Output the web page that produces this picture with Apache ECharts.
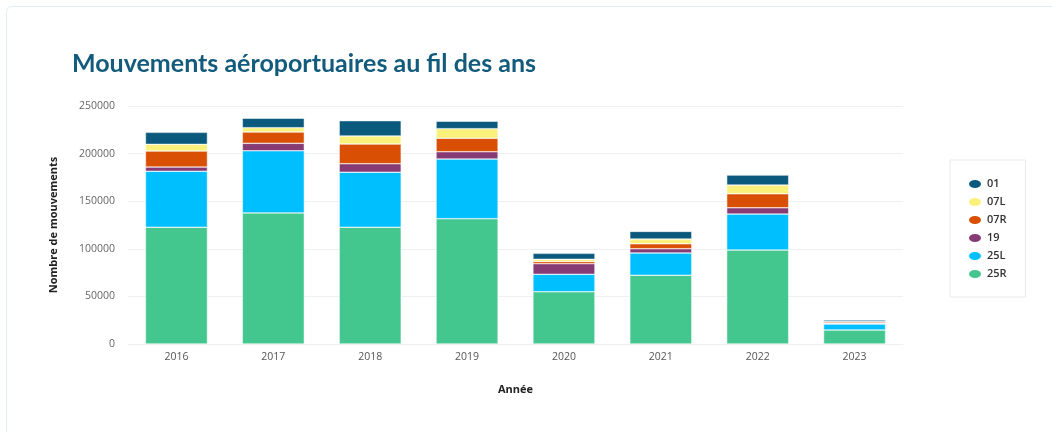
<!DOCTYPE html>
<html>
<head>
<meta charset="utf-8">
<script src="https://cdn.jsdelivr.net/npm/echarts@6/dist/echarts.min.js"></script>
<style>
  html, body { margin: 0; padding: 0; background: #fff; }
  #card {
    position: absolute; left: 6px; top: 6px; width: 1080px; height: 460px;
    border: 1px solid #e2ecef; border-radius: 6px; box-sizing: border-box;
  }
  #chart { position: absolute; left: 0; top: 0; width: 1052px; height: 432px; }
</style>
</head>
<body>
<div id="card"></div>
<div id="chart"></div>
<script>
// Years on the x axis
const years = ['2016', '2017', '2018', '2019', '2020', '2021', '2022', '2023'];

// Movements per runway, per year
const r25R = [122600, 137700, 122600, 131600, 54900, 72200, 98700, 14700];
const r25L = [58800, 65300, 57800, 62700, 18300, 23400, 37800, 6300];
const r19  = [4500, 7800, 9000, 7700, 11200, 4500, 6600, 700];
const r07R = [16800, 11900, 20700, 14100, 2300, 5200, 14700, 1400];
const r07L = [7000, 4500, 8400, 10100, 2300, 4900, 9100, 600];
const r01  = [12600, 9900, 16100, 7800, 6200, 8100, 10500, 1500];

const yTicks = [0, 50000, 100000, 150000, 200000, 250000];

const runways = [
  { name: '25R', data: r25R, color: '#44c68f' },
  { name: '25L', data: r25L, color: '#00bfff' },
  { name: '19',  data: r19,  color: '#873b74' },
  { name: '07R', data: r07R, color: '#d94f04' },
  { name: '07L', data: r07L, color: '#f9f17b' },
  { name: '01',  data: r01,  color: '#0b5a7d' }
];

const ellipse = 'path://M0,5 A7,5 0 1,1 14,5 A7,5 0 1,1 0,5 Z';

const chart = echarts.init(document.getElementById('chart'), null, { renderer: 'canvas' });
chart.setOption({
  animation: false,
  title: {
    text: 'Mouvements aéroportuaires au fil des ans',
    left: 72, top: 51, padding: 0,
    textStyle: { fontFamily: 'Lato', fontWeight: 'bold', fontSize: 25, color: '#135b7c' }
  },
  legend: {
    orient: 'vertical',
    left: 950, top: 160,
    padding: [17, 19, 16, 17],
    backgroundColor: '#fff',
    borderColor: '#e6e9eb', borderWidth: 1,
    itemWidth: 14, itemHeight: 10, itemGap: 4,
    icon: ellipse,
    data: ['01', '07L', '07R', '19', '25L', '25R'],
    textStyle: { fontFamily: 'Open Sans', fontWeight: 600, fontSize: 11, color: '#333', lineHeight: 14 }
  },
  grid: { left: 128, right: 149, top: 106, bottom: 88, containLabel: false },
  xAxis: {
    type: 'category',
    data: years,
    name: 'Année',
    nameLocation: 'middle',
    nameGap: 40,
    nameTextStyle: { fontFamily: 'Open Sans', fontWeight: 'bold', fontSize: 11, color: '#222' },
    axisLine: { show: true, lineStyle: { color: '#eceff1' } },
    axisTick: { show: false },
    axisLabel: { fontFamily: 'Open Sans', fontSize: 10.5, color: '#555', margin: 8 }
  },
  yAxis: {
    type: 'value',
    min: yTicks[0], max: yTicks[yTicks.length - 1], interval: 50000,
    name: 'Nombre de mouvements',
    nameLocation: 'middle',
    nameRotate: 90,
    nameGap: 69,
    nameTextStyle: { fontFamily: 'Open Sans', fontWeight: 'bold', fontSize: 11, color: '#222' },
    axisLine: { show: false },
    axisTick: { show: false },
    axisLabel: { fontFamily: 'Open Sans', fontSize: 10.5, color: '#666', margin: 13, formatter: v => String(v) },
    splitLine: { lineStyle: { color: '#eef1f3' } }
  },
  series: runways.map(r => ({
    type: 'bar',
    name: r.name,
    stack: 'total',
    data: r.data,
    barWidth: 62,
    itemStyle: { color: r.color, borderColor: '#ffffff', borderWidth: 0.5 }
  }))
});
</script>
</body>
</html>
